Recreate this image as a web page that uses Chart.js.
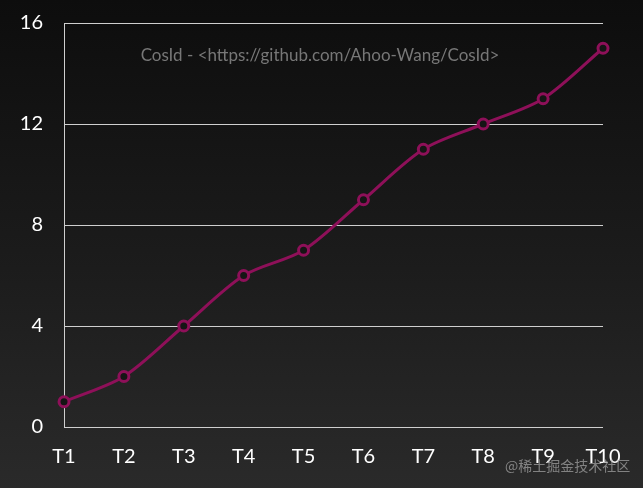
<!DOCTYPE html>
<html>
<head>
<meta charset="utf-8">
<script src="https://cdn.jsdelivr.net/npm/chart.js@4"></script>
<style>
  html, body { margin: 0; padding: 0; }
  body {
    width: 643px; height: 488px; overflow: hidden;
    background: linear-gradient(to bottom, #0d0d0d 0%, #1c1c1c 55%, #2a2a2a 100%);
    position: relative;
  }
  #wrap { position: absolute; left: 0; top: 0; width: 643px; height: 488px; }
  #mark {
    position: absolute; left: 505px; top: 455px;
    font: 14px "Noto Sans CJK SC", sans-serif; color: rgba(160,160,160,0.75);
  }
</style>
</head>
<body>
<div id="wrap"><canvas id="lineChart"></canvas></div>
<div id="mark">@稀土掘金技术社区</div>
<script>
const CHART = document.getElementById("lineChart");

const labels = ["T1", "T2", "T3", "T4", "T5", "T6", "T7", "T8", "T9", "T10"];
const cosidValues = [1, 2, 4, 6, 7, 9, 11, 12, 13, 15];
const yTicks = [0, 4, 8, 12, 16];
const titleText = "CosId - <https://github.com/Ahoo-Wang/CosId>";

const lineColor = "#8e1059";

// title drawn inside the plot area, like the original
const innerTitle = {
  id: "innerTitle",
  afterDraw(chart) {
    const ctx = chart.ctx;
    ctx.save();
    ctx.font = "17px Lato";
    ctx.fillStyle = "#777";
    ctx.textAlign = "center";
    ctx.textBaseline = "middle";
    ctx.fillText(titleText, 320, 56);
    ctx.restore();
  }
};

Chart.defaults.font.family = "Lato";

let lineChart = new Chart(CHART, {
  type: "line",
  data: {
    labels: labels,
    datasets: [{
      label: "CosId",
      data: cosidValues,
      borderColor: lineColor,
      borderWidth: 3,
      tension: 0.3,
      pointRadius: 5,
      pointBorderWidth: 3,
      pointBorderColor: lineColor,
      pointBackgroundColor: "#151515",
      fill: false
    }]
  },
  options: {
    responsive: true,
    maintainAspectRatio: false,
    animation: false,
    layout: { padding: { top: 23, right: 40, left: 0, bottom: 0 } },
    plugins: { legend: { display: false }, tooltip: { enabled: false } },
    scales: {
      x: {
        offset: false,
        grid: { display: false, drawTicks: false },
        border: { display: false },
        ticks: { color: "#fff", font: { size: 20 }, padding: 18, maxRotation: 0 },
        afterFit: s => { s.height = 61; s.paddingLeft = 0; s.paddingRight = 0; }
      },
      y: {
        min: 0, max: 16,
        afterBuildTicks: s => { s.ticks = yTicks.map(v => ({ value: v })); },
        grid: { color: "#cfcfcf", lineWidth: 1, drawTicks: false },
        border: { display: true, color: "#cfcfcf", width: 1 },
        ticks: { color: "#fff", font: { size: 20 }, padding: 21 },
        afterFit: s => { s.width = 64; s.paddingTop = 0; s.paddingBottom = 0; }
      }
    }
  },
  plugins: [innerTitle]
});
</script>
</body>
</html>
